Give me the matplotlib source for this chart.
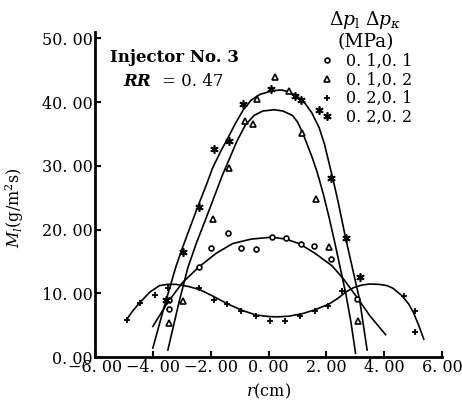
import matplotlib
matplotlib.use('Agg')
import matplotlib.pyplot as plt

plt.rcParams['font.family'] = ['DejaVu Serif']
plt.rcParams['mathtext.fontset'] = 'dejavuserif'

# ---- data (r in cm, M in g/m^2 s) ----
# fitted curves
curve_star_r = [-4.0, -3.6, -3.2, -2.97, -2.7, -2.41, -2.15, -1.93, -1.65, -1.4, -1.15, -0.87, -0.6, -0.3, 0.14, 0.45, 0.71, 1.0, 1.28, 1.5, 1.75, 1.93, 2.09, 2.25, 2.4, 2.67, 2.95, 3.15, 3.41]
curve_star_m = [1.4, 8.0, 14.2, 17.2, 20.5, 24.0, 27.0, 29.7, 32.3, 34.4, 36.6, 38.8, 40.3, 41.2, 41.8, 41.9, 41.6, 40.9, 39.7, 38.3, 36.0, 33.5, 30.5, 27.5, 24.5, 18.6, 13.0, 9.0, 1.1]

curve_tri_r = [-3.48, -3.1, -2.79, -2.5, -2.2, -1.93, -1.59, -1.36, -1.1, -0.8, -0.5, -0.2, 0.2, 0.5, 0.83, 1.0, 1.17, 1.35, 1.52, 1.69, 1.9, 2.1, 2.3, 2.49, 2.67, 2.85, 3.01]
curve_tri_m = [1.1, 8.5, 14.0, 17.8, 21.3, 24.5, 28.6, 31.0, 33.8, 36.4, 37.9, 38.6, 38.8, 38.6, 37.9, 36.9, 35.3, 33.2, 31.2, 28.9, 25.5, 21.8, 17.8, 13.8, 10.0, 5.5, 0.6]

curve_circ_r = [-4.0, -3.48, -2.97, -2.39, -1.8, -1.24, -0.6, 0.1, 0.6, 1.06, 1.6, 2.2, 2.6, 3.07, 3.5, 4.05]
curve_circ_m = [4.8, 8.6, 11.7, 14.2, 16.3, 17.8, 18.5, 18.8, 18.5, 17.8, 16.3, 14.3, 12.2, 9.3, 6.5, 3.5]

curve_plus_r = [-4.9, -4.7, -4.46, -4.1, -3.77, -3.5, -3.2, -2.8, -2.39, -1.9, -1.4, -0.9, -0.44, 0.0, 0.3, 0.7, 1.17, 1.6, 2.09, 2.4, 2.67, 2.95, 3.24, 3.5, 3.82, 4.1, 4.3, 4.62, 4.85, 5.02, 5.2, 5.37]
curve_plus_m = [5.9, 7.2, 8.5, 10.2, 11.2, 11.4, 11.4, 11.1, 10.6, 9.5, 8.3, 7.3, 6.6, 6.35, 6.3, 6.4, 6.8, 7.4, 8.3, 9.2, 10.2, 10.9, 11.3, 11.45, 11.4, 11.2, 10.8, 9.6, 8.3, 6.9, 4.9, 2.8]

# measured points
pts_circ_r = [-3.43, -3.45, -2.41, -1.99, -1.41, -0.95, -0.44, 0.11, 0.6, 1.11, 1.57, 2.15, 3.05]
pts_circ_m = [7.5, 9.0, 14.1, 17.1, 19.4, 17.1, 17.0, 18.9, 18.6, 17.8, 17.4, 15.4, 9.1]

pts_tri_r = [-3.43, -2.97, -1.91, -1.38, -0.8, -0.55, -0.4, 0.22, 0.71, 1.15, 1.63, 2.09, 3.1]
pts_tri_m = [5.3, 8.8, 21.6, 29.7, 37.1, 36.6, 40.5, 44.0, 41.8, 35.1, 24.8, 17.2, 5.6]

pts_plus_r = [-4.9, -4.46, -3.91, -3.48, -2.39, -1.87, -1.45, -0.95, -0.44, 0.06, 0.57, 1.09, 1.6, 2.07, 2.55, 4.68, 5.08, 5.06]
pts_plus_m = [5.8, 8.4, 9.7, 10.9, 10.8, 9.0, 8.3, 7.2, 6.5, 5.6, 5.6, 6.4, 7.2, 8.0, 10.4, 9.6, 7.2, 4.0]

pts_star_r = [-3.55, -2.97, -2.41, -1.9, -1.35, -0.87, 0.1, 0.9, 1.14, 1.75, 2.17, 2.69, 3.15]
pts_star_m = [9.0, 16.5, 23.6, 32.7, 33.9, 39.7, 42.0, 41.0, 40.4, 38.7, 28.1, 18.6, 12.5]

legend_labels = ["0. 1,0. 1", "0. 1,0. 2", "0. 2,0. 1", "0. 2,0. 2"]
xtick_vals = [-6, -4, -2, 0, 2, 4, 6]
xtick_labels = ["\u22126. 00", "\u22124. 00", "\u22122. 00", "0. 00", "2. 00", "4. 00", "6. 00"]
ytick_vals = [0, 10, 20, 30, 40, 50]
ytick_labels = ["0. 00", "10. 00", "20. 00", "30. 00", "40. 00", "50. 00"]

# ---- figure ----
W, H = 462, 401
fig = plt.figure(figsize=(W / 100, H / 100), dpi=100)
ax = fig.add_axes([95 / W, 1 - 357 / H, (442 - 95) / W, (357 - 32) / H])
ax.set_xlim(-6, 6)
ax.set_ylim(0, 51)

lw = 1.2
for cr, cm in [(curve_star_r, curve_star_m), (curve_tri_r, curve_tri_m),
               (curve_circ_r, curve_circ_m), (curve_plus_r, curve_plus_m)]:
    ax.plot(cr, cm, color='black', lw=lw, clip_on=False, solid_joinstyle='round')

h1, = ax.plot(pts_circ_r, pts_circ_m, ls='none', marker='o', ms=3.5, mfc='white', mec='black', mew=1.2)
h2, = ax.plot(pts_tri_r, pts_tri_m, ls='none', marker='^', ms=4, mfc='white', mec='black', mew=1.2)
h3, = ax.plot(pts_plus_r, pts_plus_m, ls='none', marker='+', ms=5, mec='black', mew=1.3)
h4, = ax.plot(pts_star_r, pts_star_m, ls='none', marker=(6, 2, 0), ms=6, mec='black', mew=1.2)

for s in ['top', 'right']:
    ax.spines[s].set_visible(False)
for s in ['left', 'bottom']:
    ax.spines[s].set_linewidth(2.0)

ax.set_xticks(xtick_vals, xtick_labels)
ax.set_yticks(ytick_vals, ytick_labels)
ax.tick_params(direction='in', length=4, width=1.5, labelsize=11.5, pad=1.5)

ax.set_xlabel(r"$r$(cm)", fontsize=11.5)
ax.xaxis.set_label_coords(0.5, (357 - 382) / 325)
ax.set_ylabel(r"$M_l$(g/m$^2$s)", fontsize=11.5)
ax.yaxis.set_label_coords((26 - 95) / 347, 0.46)

fig.text(110 / W, 1 - 57 / H, "Injector No. 3", fontsize=12, fontweight='bold', va='center', ha='left')
fig.text(123 / W, 1 - 82 / H, "RR", fontsize=12, fontweight='bold', fontstyle='italic', va='center', ha='left')
fig.text(162 / W, 1 - 82 / H, "= 0. 47", fontsize=12, va='center', ha='left')

leg = ax.legend([h1, h2, h3, h4], legend_labels,
                title=r"$\Delta p_{\rm l}\ \Delta p_\kappa$" + "\n(MPa)",
                loc='upper left', bbox_to_anchor=(309 / W, 1 + 1 / H),
                bbox_transform=fig.transFigure, frameon=False,
                fontsize=11.5, title_fontsize=13.5, handlelength=1.0,
                handletextpad=0.7, labelspacing=0.1, borderpad=0.1,
                alignment='center')
leg.get_title().set_multialignment('center')

fig.savefig("out.png", dpi=100)
